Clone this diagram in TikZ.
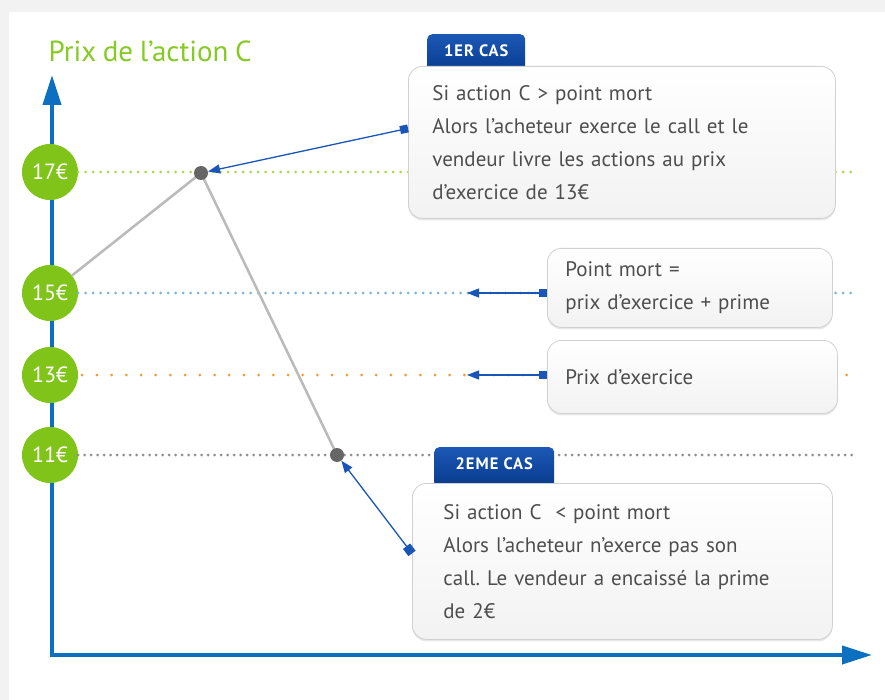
\documentclass[tikz,border=0pt]{standalone}
\usepackage{fontspec}
\setmainfont{PT Sans}[WordSpace=0.85]
\newfontfamily\tabfont{PT Sans}[LetterSpace=6]
\usetikzlibrary{arrows.meta,shadows}
\frenchspacing
\definecolor{leaf}{HTML}{80C41A}
\definecolor{titlegreen}{HTML}{86CA24}
\definecolor{axisblue}{HTML}{0D6FC0}
\definecolor{linkblue}{HTML}{1A56B8}
\definecolor{tabtop}{HTML}{1C58B5}
\definecolor{tabbot}{HTML}{073A8C}
\definecolor{txtgray}{HTML}{4E4E4E}
\definecolor{lvlgreen}{HTML}{A6DA4C}
\definecolor{lvlblue}{HTML}{78B3E4}
\definecolor{lvlorange}{HTML}{F59A2C}
\definecolor{lvlgray}{HTML}{8E8E8E}

\begin{document}
\begin{tikzpicture}[x=1pt,y=-1pt,
  axis/.style={axisblue,line width=4pt,{Triangle[length=30pt,width=18pt]}-{Triangle[length=30pt,width=18pt]}},
  price/.style={circle,fill=leaf,minimum size=56pt,inner sep=0pt,text=white,font=\fontsize{22}{22}\selectfont},
  level/.style={line width=3pt,line cap=round,dash pattern=on 0pt off #1},
  payoff/.style={black!27,line width=2.5pt},
  dot/.style={circle,fill=black!60,minimum size=14pt,inner sep=0pt},
  tab/.style={anchor=north west,rounded corners=5pt,top color=tabtop,bottom color=tabbot,minimum height=40pt,text depth=8pt,text=white,font=\tabfont\bfseries\fontsize{16.5}{16.5}\selectfont},
  note/.style={anchor=north west,draw=black!18,line width=0.8pt,rounded corners=14pt,top color=white,bottom color=black!5,
    drop shadow={shadow xshift=0pt,shadow yshift=-2pt,opacity=0.18},align=left,text=txtgray,inner ysep=0pt,
    font=\fontsize{21}{33}\selectfont},
  link/.style={linkblue,line width=1.3pt,{Square[length=8pt,width=8pt]}-{Triangle[length=12pt,width=9pt]}},
  linkd/.style={linkblue,line width=1.3pt,{Square[length=9pt,width=9pt]}-{Triangle[length=12pt,width=9pt]}}]
\useasboundingbox (0,0) rectangle (885,700);
\fill[black!5] (0,0) rectangle (885,700);
\fill[white] (9,12) rectangle (885,700);

\node[anchor=base west,text=titlegreen,font=\fontsize{29}{29}\selectfont] (title) at (45,62) {Prix de l’action C};

\coordinate (o) at (52,655);
\draw[axis] (52,75) -- (o) -- (872,655);

\node[price] (p17) at (50,172) {17€};
\node[price] (p15) at (50,293) {15€};
\node[price] (p13) at (50,375) {13€};
\node[price] (p11) at (50,455) {11€};

\coordinate (xend) at (856,0);
\draw[level=7.5pt,lvlgreen] (p17.east) -- (p17.east -| xend);
\draw[level=7.5pt,lvlblue] (p15.east) -- (p15.east -| xend);
\draw[level=14.7pt,lvlorange] ([xshift=4pt]p13.east) -- (p13.east -| xend);
\draw[level=6.5pt,lvlgray] (p11.east) -- (p11.east -| xend);

\coordinate (hi) at (201,173);
\coordinate (lo) at (337,455);
\draw[payoff] (p15) -- (hi) -- (lo);
\node[dot] (hidot) at (hi) {};
\node[dot] (lodot) at (lo) {};

\node[tab,minimum width=98pt] (tab1) at (427,34) {1ER CAS};
\node[note,minimum width=427pt,minimum height=152pt,inner xsep=24pt,text width=379pt] (cas1) at (408,66)
  {Si action C > point mort\\Alors l’acheteur exerce le call et le\\vendeur livre les actions au prix\\d’exercice de 13€};
\node[note,minimum width=285pt,minimum height=79pt,inner xsep=18pt,text width=249pt] (mort) at (547,248)
  {Point mort =\\prix d’exercice + prime};
\node[note,minimum width=290pt,minimum height=73pt,inner xsep=18pt,text width=254pt] (exer) at (547,340)
  {Prix d’exercice};
\node[tab,minimum width=120pt] (tab2) at (434,447) {2EME CAS};
\node[note,minimum width=420pt,minimum height=156pt,inner xsep=31pt,text width=358pt] (cas2) at (412,483)
  {Si action C~ < point mort\\Alors l’acheteur n’exerce pas son\\call. Le vendeur a encaissé la prime\\de 2€};

\coordinate (m15) at (467,293);
\coordinate (m13) at (467,375);
\draw[link] ([yshift=14pt]cas1.west) -- (hidot);
\draw[link] (mort.west |- p15) -- (m15);
\draw[link] (exer.west |- p13) -- (m13);
\draw[linkd] ([yshift=8pt]cas2.west) -- (lodot);
\end{tikzpicture}
\end{document}
